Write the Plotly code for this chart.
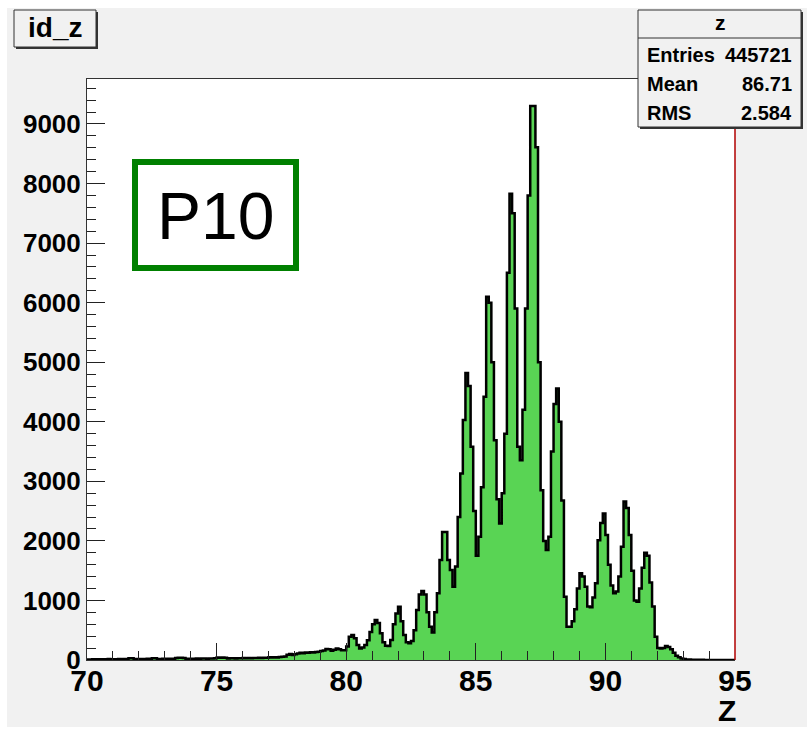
import plotly.graph_objects as go

# ---------------- data ----------------
x_min = 70.0
x_max = 95.0
bin_width = 0.1

counts = [
    8, 10, 12, 9, 14, 11, 13, 10, 15, 12,
    14, 12, 16, 13, 15, 18, 30, 28, 14, 16,
    15, 17, 14, 19, 16, 28, 30, 18, 17, 20,
    18, 21, 19, 22, 35, 38, 36, 34, 22, 20,
    23, 21, 25, 22, 24, 26, 23, 27, 25, 28,
    40, 38, 42, 39, 26, 28, 30, 27, 31, 29,
    32, 30, 34, 31, 35, 33, 37, 34, 38, 36,
    45, 40, 48, 44, 52, 55, 60, 90, 100, 85,
    95, 110, 120, 115, 125, 120, 130, 128, 135, 140,
    150, 160, 185, 180, 155, 170, 195, 180, 165, 165,
    225, 390, 420, 365, 250, 195, 210, 250, 330, 470,
    600, 670, 620, 450, 300, 240, 235, 335, 600, 780,
    895, 650, 420, 300, 280, 320, 500, 840, 1100, 1160,
    1100, 800, 560, 460, 800, 1120, 1680, 2150, 2150, 1680,
    1510, 1230, 1570, 2400, 3130, 4030, 4820, 4600, 3580, 2500,
    1750, 2070, 2900, 4420, 6100, 6000, 5000, 3690, 2700, 2290,
    2800, 3800, 6500, 7830, 7500, 5900, 3580, 3355, 4200, 5900,
    7800, 9300, 9300, 8610, 5000, 2850, 2000, 1845, 2070, 3500,
    4300, 4560, 4000, 2680, 1060, 560, 560, 650, 850, 1200,
    1455, 1400, 1230, 900, 885, 1050, 1290, 2010, 2300, 2460,
    2100, 1600, 1250, 1120, 1150, 1400, 1900, 2660, 2550, 2100,
    1500, 1000, 980, 1200, 1550, 1800, 1750, 1300, 900, 390,
    200, 195, 200, 235, 220, 180, 120, 70, 45, 25,
    15, 10, 8, 6, 5, 4, 3, 3, 2, 2,
    1, 1, 1, 0, 0, 0, 0, 0, 0, 0,
]

x_tick_values = [70, 75, 80, 85, 90, 95]
y_tick_values = [0, 1000, 2000, 3000, 4000, 5000, 6000, 7000, 8000, 9000]
y_max = 9755

hist_title = "id_z"
stats_title = "z"
stats_labels = ["Entries", "Mean", "RMS"]
stats_values = ["445721", "86.71", "2.584"]
axis_title = "Z"
tag_text = "P10"

# ---------------- geometry helpers ----------------
W, H = 807, 730
L, R, T, B = 87, 735, 79, 660


def px(xp):
    return (xp - L) / (R - L)


def py(yp):
    return (B - yp) / (B - T)


FONT = "Liberation Sans"
CANVAS = "#f1f1f1"

edges = [x_min + i * bin_width for i in range(len(counts) + 1)]
ys = counts + [counts[-1]]

fig = go.Figure(
    go.Scatter(
        x=edges,
        y=ys,
        mode="lines",
        line=dict(shape="hv", color="black", width=2.5),
        fill="tozeroy",
        fillcolor="rgb(89,212,84)",
        hoverinfo="skip",
    )
)

tickfont_x = dict(family=FONT, size=30, color="black", weight="bold")
tickfont_y = dict(family=FONT, size=26, color="black", weight="bold")

fig.update_layout(
    width=W,
    height=H,
    margin=dict(l=L, r=W - R, t=T, b=H - B, pad=0),
    paper_bgcolor=CANVAS,
    plot_bgcolor="white",
    showlegend=False,
    xaxis=dict(
        range=[x_min, x_max],
        tickmode="array",
        tickvals=x_tick_values,
        ticktext=[str(v) for v in x_tick_values],
        ticks="inside",
        ticklen=17,
        tickwidth=1,
        tickcolor="#222",
        ticklabelstandoff=-6,
        minor=dict(tickmode="linear", tick0=x_min, dtick=1, ticks="inside",
                   ticklen=9, tickwidth=1, tickcolor="#222"),
        showline=True,
        linecolor="#333",
        linewidth=1,
        mirror=True,
        showgrid=False,
        zeroline=False,
        tickfont=tickfont_x,
    ),
    yaxis=dict(
        range=[0, y_max],
        tickmode="array",
        tickvals=y_tick_values,
        ticktext=[str(v) for v in y_tick_values],
        ticks="inside",
        ticklen=18,
        tickwidth=1,
        tickcolor="#222",
        minor=dict(tickmode="linear", tick0=0, dtick=200, ticks="inside",
                   ticklen=9, tickwidth=1, tickcolor="#222"),
        showline=True,
        linecolor="#333",
        linewidth=1,
        mirror=False,
        showgrid=False,
        zeroline=False,
        tickfont=tickfont_y,
    ),
)

shapes = []
# white border strips around the canvas
for (x0, y0, x1, y1) in [(0, 0, 7, H), (0, 0, W, 8), (0, 727, W, H)]:
    shapes.append(dict(type="rect", xref="paper", yref="paper", layer="below",
                       x0=px(x0), x1=px(x1), y0=py(y0), y1=py(y1),
                       fillcolor="white", line=dict(width=0)))
# red right frame line
shapes.append(dict(type="line", xref="paper", yref="paper", x0=1, x1=1, y0=0, y1=1,
                   line=dict(color="#b00000", width=1.5)))
# title box with shadow
shapes.append(dict(type="rect", xref="paper", yref="paper",
                   x0=px(16), x1=px(98), y0=py(12), y1=py(49),
                   fillcolor="#333", line=dict(width=0)))
shapes.append(dict(type="rect", xref="paper", yref="paper",
                   x0=px(14), x1=px(96), y0=py(10), y1=py(47),
                   fillcolor=CANVAS, line=dict(color="#333", width=1)))
# stats box with shadow
shapes.append(dict(type="rect", xref="paper", yref="paper",
                   x0=px(640), x1=px(803), y0=py(12), y1=py(129),
                   fillcolor="#333", line=dict(width=0)))
shapes.append(dict(type="rect", xref="paper", yref="paper",
                   x0=px(638), x1=px(801), y0=py(10), y1=py(127),
                   fillcolor=CANVAS, line=dict(color="#333", width=1)))
shapes.append(dict(type="line", xref="paper", yref="paper",
                   x0=px(638), x1=px(801), y0=py(38), y1=py(38),
                   line=dict(color="#333", width=1)))
# P10 tag box
shapes.append(dict(type="rect", xref="paper", yref="paper",
                   x0=px(135), x1=px(296), y0=py(162), y1=py(268),
                   fillcolor="white", line=dict(color="#008000", width=6)))

annotations = []
annotations.append(dict(text=hist_title, xref="paper", yref="paper", x=px(55), y=py(28),
                        showarrow=False, xanchor="center", yanchor="middle",
                        font=dict(family=FONT, size=28, color="black", weight="bold")))
annotations.append(dict(text=stats_title, xref="paper", yref="paper", x=px(720), y=py(23),
                        showarrow=False, xanchor="center", yanchor="middle",
                        font=dict(family=FONT, size=21, color="black", weight="bold")))
row_y = [55, 84, 113]
for lab, val, yy in zip(stats_labels, stats_values, row_y):
    annotations.append(dict(text=lab, xref="paper", yref="paper", x=px(645), y=py(yy),
                            showarrow=False, xanchor="left", yanchor="middle",
                            font=dict(family=FONT, size=20, color="black", weight="bold")))
    annotations.append(dict(text=val, xref="paper", yref="paper", x=px(794), y=py(yy),
                            showarrow=False, xanchor="right", yanchor="middle",
                            font=dict(family=FONT, size=20, color="black", weight="bold")))
annotations.append(dict(text=tag_text, xref="paper", yref="paper", x=px(215), y=py(216),
                        showarrow=False, xanchor="center", yanchor="middle",
                        font=dict(family=FONT, size=66, color="black")))
annotations.append(dict(text=axis_title, xref="paper", yref="paper", x=px(738), y=py(710),
                        showarrow=False, xanchor="right", yanchor="middle",
                        font=dict(family=FONT, size=30, color="black", weight="bold")))

fig.update_layout(shapes=shapes, annotations=annotations)

fig.write_html("out.html")
